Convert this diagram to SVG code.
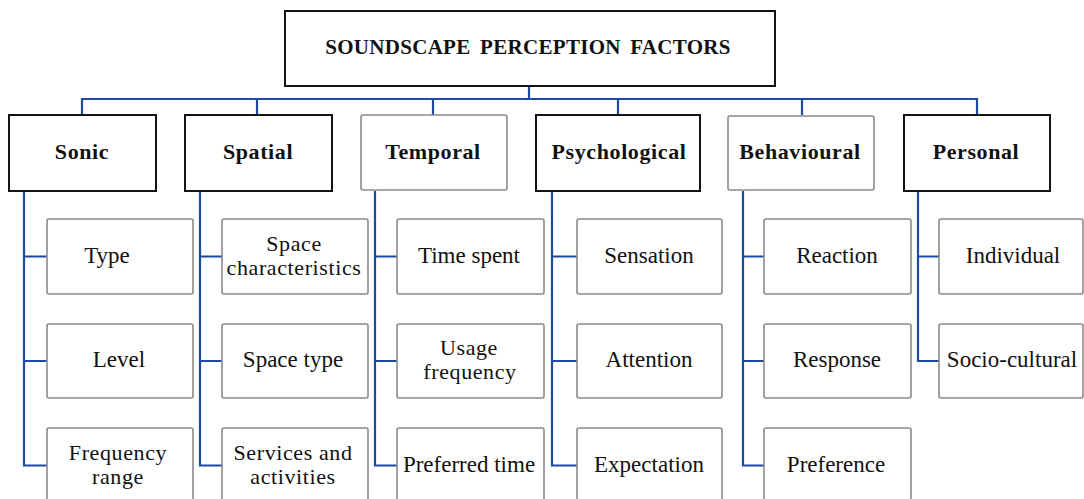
<svg xmlns="http://www.w3.org/2000/svg" width="1084" height="499" viewBox="0 0 1084 499">
  <style>
    .bg { fill: #ffffff; }
    .box-dark { fill: #ffffff; stroke: #141414; stroke-width: 2; }
    .box-light { fill: #ffffff; stroke: #8a8a8a; stroke-width: 1.6; }
    .link { fill: none; stroke: #1b4aa0; stroke-width: 2.2; stroke-linejoin: miter; }
    text { font-family: "Liberation Serif", "Times New Roman", serif; fill: #111111; text-anchor: middle; }
    .title { font-size: 21px; font-weight: bold; letter-spacing: 0.3px; word-spacing: 4px; }
    .head { font-size: 22px; font-weight: bold; letter-spacing: 0.6px; }
    .item { font-size: 23px; }
    .item2 { font-size: 22px; letter-spacing: 0.6px; }
  </style>
  <rect class="bg" x="0" y="0" width="1084" height="499"/>

  <!-- connectors -->
  <g id="connectors">
    <path class="link" d="M529 86 V99 M82 115 V99 H977 V115 M257 99 V115 M433 99 V115 M618 99 V115 M802 99 V115"/>
    <path class="link" d="M24 191 V465.5 H47 M24 256.5 H47 M24 361 H47"/>
    <path class="link" d="M200 191 V465.5 H222 M200 256.5 H222 M200 361 H222"/>
    <path class="link" d="M375 191 V465.5 H397 M375 256.5 H397 M375 361 H397"/>
    <path class="link" d="M552 191 V465.5 H577 M552 256.5 H577 M552 361 H577"/>
    <path class="link" d="M743 191 V465.5 H764 M743 256.5 H764 M743 361 H764"/>
    <path class="link" d="M918 191 V361 H939 M918 256.5 H939"/>
  </g>

  <!-- root -->
  <g id="root">
    <rect class="box-dark" x="285" y="11" width="490" height="75"/>
    <text class="title" x="528" y="54">SOUNDSCAPE PERCEPTION FACTORS</text>
  </g>

  <!-- factor categories -->
  <g id="sonic">
    <rect class="box-dark" x="9" y="115" width="147" height="76"/>
    <text class="head" x="82" y="159">Sonic</text>
  </g>
  <g id="spatial">
    <rect class="box-dark" x="185" y="115" width="147" height="76"/>
    <text class="head" x="258" y="159">Spatial</text>
  </g>
  <g id="temporal">
    <rect class="box-light" x="361" y="115" width="146" height="75" rx="2"/>
    <text class="head" x="433" y="159">Temporal</text>
  </g>
  <g id="psychological">
    <rect class="box-dark" x="536" y="115" width="164" height="76"/>
    <text class="head" x="619" y="159">Psychological</text>
  </g>
  <g id="behavioural">
    <rect class="box-light" x="728" y="116" width="146" height="74" rx="2"/>
    <text class="head" x="800" y="159">Behavioural</text>
  </g>
  <g id="personal">
    <rect class="box-dark" x="904" y="115" width="146" height="76"/>
    <text class="head" x="976" y="159">Personal</text>
  </g>

  <!-- Sonic items -->
  <g id="sonic-type">
    <rect class="box-light" x="47" y="219" width="146" height="75" rx="2"/>
    <text class="item" x="107" y="263">Type</text>
  </g>
  <g id="sonic-level">
    <rect class="box-light" x="47" y="324" width="146" height="74" rx="2"/>
    <text class="item" x="119" y="367">Level</text>
  </g>
  <g id="sonic-frequency-range">
    <rect class="box-light" x="47" y="428" width="146" height="80" rx="2"/>
    <text class="item2" x="118" y="460">Frequency</text>
    <text class="item2" x="118" y="484">range</text>
  </g>

  <!-- Spatial items -->
  <g id="spatial-characteristics">
    <rect class="box-light" x="222" y="219" width="146" height="75" rx="2"/>
    <text class="item2" x="294" y="251">Space</text>
    <text class="item2" x="294" y="275">characteristics</text>
  </g>
  <g id="spatial-type">
    <rect class="box-light" x="222" y="324" width="146" height="74" rx="2"/>
    <text class="item" x="293" y="367">Space type</text>
  </g>
  <g id="spatial-services">
    <rect class="box-light" x="222" y="428" width="146" height="80" rx="2"/>
    <text class="item2" x="293" y="460">Services and</text>
    <text class="item2" x="293" y="484">activities</text>
  </g>

  <!-- Temporal items -->
  <g id="temporal-time-spent">
    <rect class="box-light" x="397" y="219" width="147" height="75" rx="2"/>
    <text class="item" x="469" y="263">Time spent</text>
  </g>
  <g id="temporal-usage">
    <rect class="box-light" x="397" y="324" width="147" height="74" rx="2"/>
    <text class="item2" x="469" y="355">Usage</text>
    <text class="item2" x="470" y="379">frequency</text>
  </g>
  <g id="temporal-preferred-time">
    <rect class="box-light" x="397" y="428" width="147" height="80" rx="2"/>
    <text class="item" x="469" y="472">Preferred time</text>
  </g>

  <!-- Psychological items -->
  <g id="psychological-sensation">
    <rect class="box-light" x="577" y="219" width="145" height="75" rx="2"/>
    <text class="item" x="649" y="263">Sensation</text>
  </g>
  <g id="psychological-attention">
    <rect class="box-light" x="577" y="324" width="145" height="74" rx="2"/>
    <text class="item" x="649" y="367">Attention</text>
  </g>
  <g id="psychological-expectation">
    <rect class="box-light" x="577" y="428" width="145" height="80" rx="2"/>
    <text class="item" x="649" y="472">Expectation</text>
  </g>

  <!-- Behavioural items -->
  <g id="behavioural-reaction">
    <rect class="box-light" x="764" y="219" width="147" height="75" rx="2"/>
    <text class="item" x="837" y="263">Reaction</text>
  </g>
  <g id="behavioural-response">
    <rect class="box-light" x="764" y="324" width="147" height="74" rx="2"/>
    <text class="item" x="837" y="367">Response</text>
  </g>
  <g id="behavioural-preference">
    <rect class="box-light" x="764" y="428" width="147" height="80" rx="2"/>
    <text class="item" x="836" y="472">Preference</text>
  </g>

  <!-- Personal items -->
  <g id="personal-individual">
    <rect class="box-light" x="939" y="219" width="144" height="75" rx="2"/>
    <text class="item" x="1013" y="263">Individual</text>
  </g>
  <g id="personal-socio-cultural">
    <rect class="box-light" x="939" y="324" width="144" height="74" rx="2"/>
    <text class="item" x="1012" y="367">Socio-cultural</text>
  </g>
</svg>
